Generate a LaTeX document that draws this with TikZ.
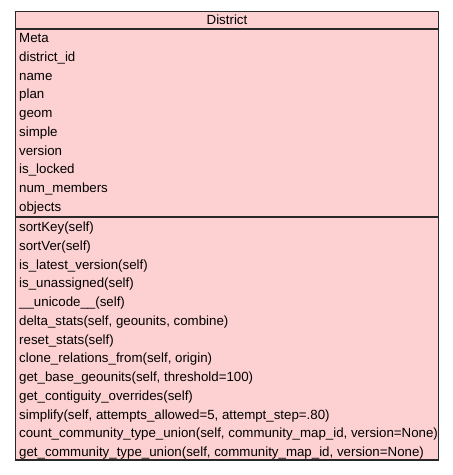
\documentclass[tikz,border=0pt]{standalone}
\usepackage{fontspec}
\setmainfont{Liberation Sans}
\definecolor{umlfill}{RGB}{253,209,210}
\definecolor{umlline}{RGB}{40,40,40}
\begin{document}
\begin{tikzpicture}[x=1pt,y=-1pt,
  row/.style={anchor=base west,inner sep=0pt,font=\fontsize{13.3}{15}\selectfont},
  ttl/.style={anchor=base,inner sep=0pt,font=\fontsize{13.3}{15}\selectfont}]
\useasboundingbox (0,0) rectangle (453,475);
\draw[fill=umlfill,draw=umlline,line width=1.2pt] (15.5,11.5) coordinate (tl) rectangle (438.5,460) coordinate (br);
\draw[umlline,line width=1.2pt] (15.5,29) -- (438.5,29);
\draw[umlline,line width=1.2pt] (15.5,217) -- (438.5,217);
\node[ttl] (title) at (227,24.5) {District};
\foreach \t [count=\i] in {Meta,district\_id,name,plan,geom,simple,version,is\_locked,num\_members,objects}
  \node[row] (a\i) at (19,{42.5+(\i-1)*18.75}) {\t};
\foreach \t [count=\i] in {sortKey(self),sortVer(self),is\_latest\_version(self),is\_unassigned(self),\_\_unicode\_\_(self),{delta\_stats(self, geounits, combine)},reset\_stats(self),{clone\_relations\_from(self, origin)},{get\_base\_geounits(self, threshold=100)},get\_contiguity\_overrides(self),{simplify(self, attempts\_allowed=5, attempt\_step=.80)},{count\_community\_type\_union(self, community\_map\_id, version=None)},{get\_community\_type\_union(self, community\_map\_id, version=None)}}
  \node[row] (m\i) at (19,{231.5+(\i-1)*18.75}) {\t};
\end{tikzpicture}
\end{document}
